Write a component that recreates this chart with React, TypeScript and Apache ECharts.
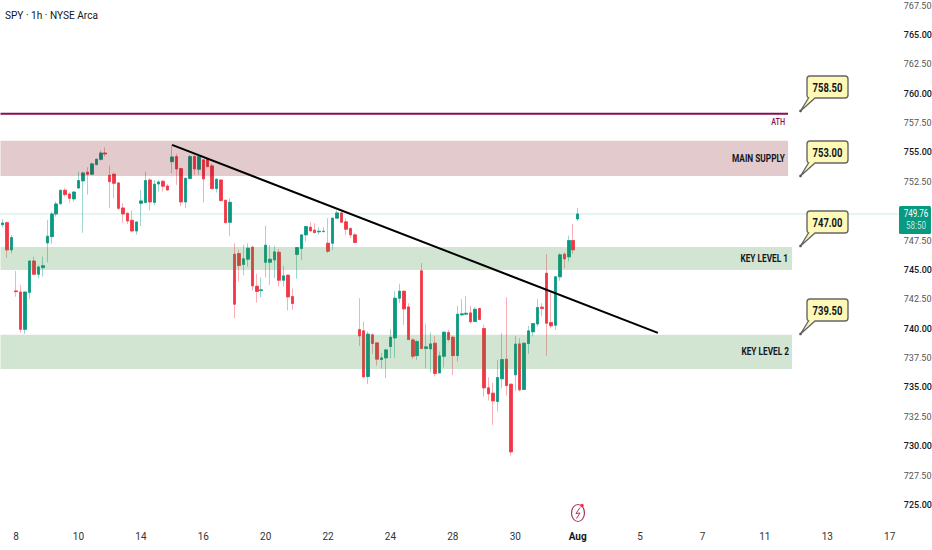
import React, { useEffect, useRef } from "react";
import * as echarts from "echarts";

const title = "SPY · 1h · NYSE Arca";
const slotCount = 202;
const firstTick = 3;
const ticksPerLabel = 14;
const dateLabels = ["8", "10", "14", "16", "20", "22", "24", "28", "30", "Aug", "5", "7", "11", "13", "17"];
const lastPrice = 749.76;
const countdown = "58:50";
// [open, close, low, high]
const candles: number[][] = [
  [748.85,748.99,748.63,749.31],[749.02,746.70,746.02,749.10],[746.70,747.75,746.41,747.97],[743.21,743.15,742.72,744.91],
  [743.12,739.94,739.66,743.72],[739.94,743.12,739.55,743.15],[743.09,745.76,742.53,745.80],[745.76,744.63,744.57,746.13],
  [744.63,745.25,744.29,745.42],[745.19,745.36,744.43,746.13],[747.29,747.86,745.65,749.25],[747.83,749.76,747.21,749.96],
  [749.76,750.61,749.53,750.81],[750.64,751.78,750.53,751.81],[751.78,751.41,751.24,751.95],[751.46,751.09,750.73,751.58],
  [751.04,751.63,750.81,751.66],[751.97,752.60,751.86,753.36],[752.57,753.25,748.17,753.36],[753.31,753.14,751.41,753.73],
  [753.14,754.02,753.08,754.13],[753.96,754.41,753.90,754.50],[754.41,754.95,754.30,755.15],[754.95,754.87,754.64,755.43],
  [753.05,752.51,750.24,753.87],[753.14,752.37,751.07,753.28],[752.40,750.24,750.10,752.45],[750.27,749.76,749.02,750.67],
  [749.82,749.16,748.91,749.87],[749.22,748.31,748.26,750.04],[748.31,749.08,748.00,749.11],[750.67,750.87,748.74,751.80],
  [750.73,752.60,750.67,753.36],[752.65,750.78,750.07,752.80],[750.75,752.29,750.53,752.65],[752.31,752.48,751.66,752.65],
  [752.54,752.12,751.66,752.65],[752.14,751.80,751.75,752.29],[754.21,754.61,753.22,755.60],[754.64,753.59,752.23,754.87],
  [753.62,750.78,750.44,753.70],[750.78,752.80,750.27,752.83],[752.77,754.64,752.74,754.78],[754.64,753.59,753.08,754.78],
  [753.56,754.64,753.11,754.78],[754.36,752.74,750.73,754.41],[754.41,753.79,753.73,754.50],[753.85,751.92,751.86,754.07],
  [751.92,752.71,751.58,752.80],[752.65,750.90,750.81,752.70],[750.93,749.02,748.97,750.95],[749.05,750.75,747.89,751.09],
  [746.33,742.08,740.89,747.27],[746.39,745.37,744.01,746.70],[745.46,745.94,744.55,747.13],[745.91,746.85,745.28,747.27],
  [746.93,743.64,743.24,747.04],[743.61,743.16,742.22,744.66],[743.24,743.30,742.65,744.38],[745.65,747.10,744.35,748.75],
  [745.65,745.91,743.72,747.13],[745.85,746.53,744.29,747.04],[746.50,744.12,743.58,746.76],[744.12,744.49,743.58,745.34],
  [744.55,742.70,741.54,744.60],[742.73,742.14,741.60,743.41],[746.31,746.90,744.24,746.93],[746.82,747.98,745.85,748.00],
  [747.98,748.69,747.41,748.75],[748.63,748.32,748.26,749.06],[748.38,748.18,748.07,748.97],[748.24,748.29,748.01,748.63],
  [748.26,748.29,748.18,748.63],[747.27,746.59,746.42,749.40],[747.27,749.40,746.70,749.46],[749.40,749.85,749.38,750.05],
  [749.85,749.06,749.03,749.97],[749.09,748.46,747.98,749.40],[748.52,747.98,747.70,748.63],[747.98,747.33,747.27,748.12],
  [739.92,739.38,738.53,742.59],[739.81,735.89,735.87,740.60],[735.92,739.53,735.30,739.75],[739.47,738.73,737.85,739.61],
  [738.79,737.40,736.86,738.82],[737.37,737.51,736.60,737.91],[737.51,738.19,735.78,738.28],[738.48,739.27,737.48,739.95],
  [739.21,742.59,737.51,743.16],[742.59,743.19,742.16,743.81],[743.19,741.68,740.32,743.22],[741.85,739.07,739.04,742.16],
  [739.04,737.65,737.40,739.19],[737.71,738.90,737.34,739.04],[744.92,738.31,738.25,745.57],[738.31,738.45,736.63,740.41],
  [738.28,738.70,736.29,739.67],[738.76,736.18,735.92,739.38],[736.23,737.68,736.21,738.05],[737.65,739.70,736.69,739.75],
  [739.67,739.07,738.90,739.89],[739.27,737.71,736.04,739.38],[737.71,741.23,737.20,741.94],[741.17,741.26,741.09,742.51],
  [741.23,741.31,741.17,742.79],[741.34,740.58,740.46,741.94],[740.61,741.65,740.58,741.82],[741.71,740.78,740.75,741.80],
  [740.01,734.96,734.22,740.32],[734.96,734.45,733.88,735.87],[734.51,733.85,731.81,735.41],[733.80,735.84,732.95,737.34],
  [735.73,737.37,734.93,739.61],[737.40,735.16,734.31,742.68],[735.27,729.51,729.17,735.36],[736.07,738.68,734.70,739.39],
  [738.70,734.79,734.65,739.19],[734.82,738.76,734.79,738.82],[738.73,739.81,737.85,740.24],[739.73,740.43,739.33,740.46],
  [740.40,741.80,740.18,742.53],[741.83,741.71,741.03,742.17],[744.72,740.46,737.71,746.34],[740.52,740.24,740.04,743.10],
  [740.29,744.41,739.90,744.45],[744.41,746.28,744.07,746.42],[746.34,745.94,745.14,746.48],[746.11,747.50,745.71,747.92],
  [747.50,746.70,746.36,748.92],[749.34,749.76,749.17,750.28],
];
// [slot, price] of the drawn lines
const trendLine = [[38.5, 755.64], [147.5, 739.64]];
const athLine = [[0, 758.28], [176.7, 758.28]];
const lastPriceLine = [[0, lastPrice], [201.7, lastPrice]];
// [top price, bottom price, end slot]
const supplyZones = [[755.98, 753.0, 176.7]];
const keyZones = [[746.95, 745.0, 177.6], [739.47, 736.57, 177.6]];
const calloutTexts = ["758.50", "753.00", "747.00", "739.50"];
const zoneLabels = ["MAIN SUPPLY", "KEY LEVEL 1", "KEY LEVEL 2"];

const UP = "#089981";
const DOWN = "#f23645";
const FONT = "Roboto, sans-serif";

echarts.graphic.registerShape(
  "callout",
  echarts.graphic.extendPath("M3,0 H38 Q41,0 41,3 V19 Q41,22 38,22 H8 L-6.5,35 L1.5,22 Q0,21.5 0,19 V3 Q0,0 3,0 Z", {})
);

const categories = Array.from({ length: slotCount }, (_, i) => {
  const j = (i - firstTick) / ticksPerLabel;
  return Number.isInteger(j) && dateLabels[j] !== undefined ? dateLabels[j] : "·" + i;
});

function zoneSeries(zones: number[][], fill: string) {
  return {
    type: "custom",
    xAxisIndex: 1,
    z: 5,
    silent: true,
    clip: false,
    data: zones,
    renderItem: (_: unknown, api: any) => {
      const a = api.coord([0, api.value(0)]);
      const b = api.coord([api.value(2), api.value(1)]);
      return { type: "rect", shape: { x: a[0], y: a[1], width: b[0] - a[0], height: b[1] - a[1] }, style: { fill } };
    },
    encode: { x: 2, y: [0, 1] },
  };
}

function lineSeries(data: number[][], color: string, width: number, type: string, z: number) {
  return {
    type: "line",
    xAxisIndex: 1,
    z,
    silent: true,
    showSymbol: false,
    symbol: "none",
    data,
    lineStyle: { color, width, type },
  };
}

function callout(i: number, x: number, top: number) {
  return [
    { type: "callout", x, y: top, z: 20, style: { fill: "#fff9b8", stroke: "#666666", lineWidth: 1.4 } },
    { type: "circle", z: 21, shape: { cx: x - 6.5, cy: top + 35, r: 1.3 }, style: { fill: "#555" } },
    {
      type: "text", x: x + 20.5, y: top + 11, z: 22, scaleX: 0.7,
      style: { text: calloutTexts[i], fill: "#131722", font: `bold 13.5px ${FONT}`, align: "center", verticalAlign: "middle" },
    },
  ];
}

function zoneLabel(text: string, right: number, y: number) {
  return {
    type: "text", x: right, y, z: 22, scaleX: 0.72,
    style: { text, fill: "#131722", font: `bold 11.5px ${FONT}`, align: "right", verticalAlign: "middle" },
  };
}

export default function App() {
  const ref = useRef<HTMLDivElement>(null);
  useEffect(() => {
    const chart = echarts.init(ref.current!, undefined, { renderer: "svg" });
    chart.setOption({
      animation: false,
      backgroundColor: "#ffffff",
      grid: { left: 0.5, top: 5.5, width: 900.3, height: 499.4, containLabel: false, outerBoundsMode: "none" },
      xAxis: [
        {
          type: "category",
          data: categories,
          offset: 27,
          axisLine: { show: false },
          axisTick: { show: false },
          splitLine: { show: false },
          axisLabel: {
            interval: (_: number, v: string) => !v.startsWith("·"),
            margin: 0,
            fontFamily: FONT,
            fontSize: 10,
            color: "#333",
            formatter: (v: string) => (v === "Aug" ? `{b|${v}}` : v),
            rich: { b: { fontWeight: "bold", color: "#131722", fontFamily: FONT, fontSize: 10 } },
          },
        },
        { type: "value", min: 0, max: slotCount, show: false },
      ],
      yAxis: {
        type: "value",
        position: "right",
        min: 725,
        max: 767.5,
        interval: 2.5,
        axisLine: { show: false },
        axisTick: { show: false },
        splitLine: { show: false },
        axisLabel: {
          margin: 3,
          fontFamily: FONT,
          fontSize: 9,
          color: "#555",
          formatter: (v: number) => (v === 750 ? "" : v % 5 === 0 ? `{b|${v.toFixed(2)}}` : v.toFixed(2)),
          rich: { b: { color: "#131722", fontFamily: FONT, fontSize: 9, fontWeight: 500 } },
        },
      },
      series: [
        lineSeries(lastPriceLine, "rgba(8,153,129,0.4)", 1, "dotted", 1),
        {
          type: "candlestick",
          z: 2,
          barWidth: 3,
          silent: true,
          data: candles,
          itemStyle: { color: UP, color0: DOWN, borderColor: UP, borderColor0: DOWN, borderWidth: 1, opacity: 0.4 },
        },
        {
          type: "candlestick",
          z: 3,
          barWidth: 3,
          silent: true,
          data: candles.map(([o, c]) => [o, c, Math.min(o, c), Math.max(o, c)]),
          itemStyle: { color: UP, color0: DOWN, borderColor: UP, borderColor0: DOWN, borderWidth: 0.6 },
        },
        zoneSeries(supplyZones, "rgba(125,5,15,0.21)"),
        zoneSeries(keyZones, "rgba(56,142,60,0.23)"),
        lineSeries(athLine, "#880e4f", 2, "solid", 6),
        lineSeries(trendLine, "#000000", 2, "solid", 7),
      ],
      graphic: [
        { type: "text", x: 5, y: 15, z: 22, scaleX: 0.92, style: { text: title, fill: "#131722", font: `11px ${FONT}`, verticalAlign: "middle" } },
        { type: "text", x: 785, y: 122, z: 22, scaleX: 0.8, style: { text: "ATH", fill: "#880e4f", font: `500 9px ${FONT}`, align: "right", verticalAlign: "middle" } },
        zoneLabel(zoneLabels[0], 785, 158),
        zoneLabel(zoneLabels[1], 788, 258),
        zoneLabel(zoneLabels[2], 789, 351),
        ...callout(0, 807, 76),
        ...callout(1, 807, 141),
        ...callout(2, 807, 211),
        ...callout(3, 807, 299),
        { type: "rect", z: 20, shape: { x: 899, y: 206, width: 32, height: 28, r: 1.5 }, style: { fill: UP } },
        { type: "text", x: 916, y: 214, z: 22, scaleX: 0.8, style: { text: lastPrice.toFixed(2), fill: "#ffffff", font: `10px ${FONT}`, align: "center", verticalAlign: "middle" } },
        { type: "text", x: 916, y: 226, z: 22, scaleX: 0.8, style: { text: countdown, fill: "rgba(255,255,255,0.75)", font: `10px ${FONT}`, align: "center", verticalAlign: "middle" } },
        { type: "ellipse", z: 20, shape: { cx: 578, cy: 513, rx: 6.5, ry: 8.5 }, style: { fill: "none", stroke: "#a8385f", lineWidth: 1.2 } },
        { type: "polyline", z: 21, shape: { points: [[580, 507.5], [576, 513.5], [580, 513], [576.5, 518.5]] }, style: { fill: "none", stroke: "#a8385f", lineWidth: 1 } },
        { type: "circle", z: 21, shape: { cx: 582, cy: 505.5, r: 1.8 }, style: { fill: "#f23645" } },
      ],
    });
    return () => chart.dispose();
  }, []);
  return <div ref={ref} style={{ width: 932, height: 550, position: "fixed", left: 0, top: 0 }} />;
}
